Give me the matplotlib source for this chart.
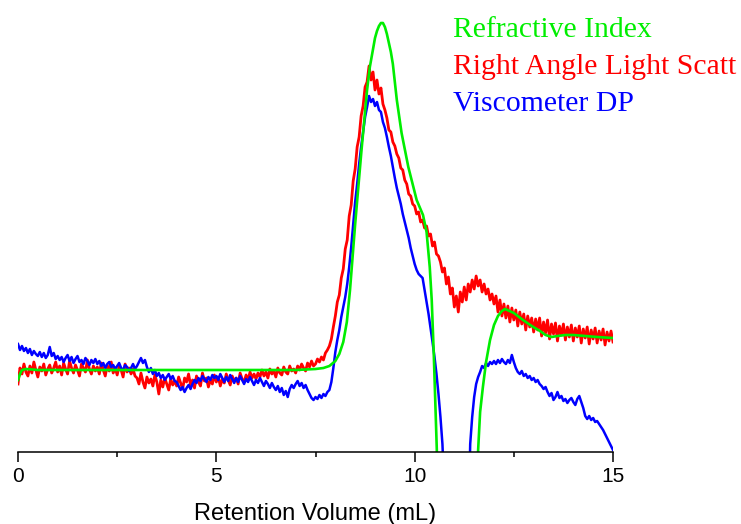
import numpy as np
import matplotlib
matplotlib.use("Agg")
import matplotlib.pyplot as plt

# retention volume grid for the two noisy detectors (mL, step 0.05)
volume = np.round(np.arange(0, 15.001, 0.05), 2)

# right angle light scattering signal (arbitrary units)
rals = [
    68, 84, 78, 88, 80, 76, 86, 79, 90, 82, 75, 85, 81, 88, 77, 83, 87, 79, 84, 90,
    80, 86, 77, 89, 83, 78, 91, 84, 79, 87, 82, 76, 88, 84, 80, 92, 83, 78, 86, 81,
    85, 78, 89, 82, 76, 87, 81, 90, 79, 84, 77, 86, 82, 75, 88, 80, 84, 78, 83, 76,
    74, 68, 79, 70, 64, 75, 69, 73, 66, 77, 70, 58, 72, 65, 74, 68, 62, 73, 67, 71,
    66, 75, 69, 63, 74, 70, 78, 67, 72, 64, 76, 70, 66, 79, 71, 74, 65, 72, 68, 77,
    70, 75, 66, 73, 69, 78, 72, 67, 76, 71, 74, 68, 79, 73, 70, 77, 72, 80, 74, 78,
    73, 79, 75, 82, 76, 80, 74, 83, 78, 81, 75, 84, 79, 77, 85, 80, 78, 86, 81, 83,
    79, 86, 82, 88, 84, 81, 89, 85, 91, 86, 88, 93, 90, 95, 92, 99, 102, 106, 113, 125,
    136, 150, 157, 174, 183, 203, 212, 236, 247, 271, 283, 305, 315, 336, 346, 365, 370, 386, 372, 380,
    362, 372, 358, 364, 348, 342, 334, 322, 320, 310, 306, 298, 294, 284, 282, 272, 268, 258, 256, 248,
    246, 238, 240, 230, 232, 224, 226, 216, 218, 206, 210, 198, 196, 190, 180, 184, 168, 175, 158, 164,
    145, 156, 140, 160, 150, 165, 152, 168, 160, 172, 163, 176, 166, 172, 160, 168, 158, 163, 152, 158,
    148, 156, 140, 152, 136, 148, 134, 146, 130, 144, 132, 142, 126, 140, 128, 138, 122, 136, 125, 134,
    120, 133, 122, 134, 116, 130, 119, 132, 113, 128, 118, 129, 111, 126, 117, 128, 112, 125, 115, 127,
    111, 124, 115, 126, 109, 123, 114, 125, 108, 122, 113, 124, 109, 121, 112, 123, 107, 120, 111, 121,
    110,
]

# viscometer differential pressure signal
visc = [
    108, 102, 106, 101, 104, 99, 103, 97, 101, 98, 96, 100, 95, 99, 94, 97, 105, 96, 99, 93,
    96, 92, 95, 90, 94, 97, 91, 95, 89, 93, 96, 90, 92, 88, 94, 91, 87, 92, 89, 93,
    88, 91, 86, 89, 84, 88, 90, 85, 87, 83, 86, 89, 84, 82, 87, 85, 81, 84, 88, 83,
    86, 90, 94, 89, 92, 85, 80, 84, 78, 82, 76, 79, 74, 77, 72, 75, 78, 73, 76, 71,
    70, 66, 62, 65, 60, 64, 67, 63, 68, 72, 69, 74, 71, 76, 73, 70, 75, 72, 77, 74,
    76, 72, 78, 74, 70, 75, 71, 77, 73, 69, 74, 70, 76, 72, 68, 73, 70, 75, 71, 67,
    72, 69, 74, 70, 66, 71, 68, 64, 69, 65, 62, 66, 60, 64, 57, 61, 55, 63, 67, 64,
    68, 71, 66, 69, 64, 67, 62, 58, 54, 52, 55, 53, 57, 54, 58, 56, 60, 62, 70, 84,
    100, 112, 122, 135, 145, 155, 168, 185, 205, 228, 250, 268, 288, 305, 320, 335, 345, 356, 350, 353,
    346, 350, 342, 340, 330, 324, 315, 305, 296, 285, 274, 264, 256, 248, 238, 230, 222, 214, 204, 196,
    188, 182, 178, 176, 174, 162, 150, 138, 124, 110, 95, 78, 58, 35, 8, -40, -80, -80, -80, -80,
    -80, -80, -80, -80, -80, -80, -80, -80, 8, 35, 55, 68, 75, 80, 86, 84, 89, 86, 90, 88,
    91, 88, 92, 89, 93, 90, 88, 92, 89, 97, 90, 84, 80, 78, 81, 76, 78, 74, 76, 72,
    74, 70, 72, 68, 66, 63, 65, 60, 56, 59, 52, 55, 60, 54, 56, 51, 53, 49, 52, 54,
    50, 47, 53, 56, 50, 44, 36, 33, 36, 32, 34, 30, 31, 28, 25, 22, 18, 14, 10, 6,
    2,
]

# refractive index trace (smooth, read at its own points)
ri_volume = [0.0, 0.05, 0.1, 0.2, 0.5, 1, 2, 3, 4, 5, 6, 7, 7.5, 7.7, 7.85, 7.94, 8.0, 8.1, 8.2,
             8.29, 8.37, 8.5, 8.66, 8.8, 8.87, 9.0, 9.05, 9.1, 9.15, 9.2, 9.25, 9.3, 9.4, 9.45,
             9.5, 9.55, 9.67, 9.84, 10.05, 10.21, 10.3, 10.38, 10.43, 10.48, 10.52, 10.56, 10.6,
             10.7, 11.45, 11.55, 11.6, 11.65, 11.72, 11.8, 11.9, 12.0, 12.1, 12.2, 12.28, 12.5,
             12.73, 12.95, 13.16, 13.3, 13.45, 13.6, 13.8, 14.0, 14.3, 14.6, 15.0]
ri = [72, 78, 82, 83, 82, 82, 82, 82, 82, 82, 82, 82, 83, 84, 86, 89, 91, 98, 110,
      130, 162, 228, 302, 362, 385, 414, 421, 426, 429, 429, 425, 418, 400, 388,
      370, 352, 319, 285, 252, 237, 220, 185, 152, 100, 50, 0, -60,
      -200, -200, -60, 2, 40, 65, 90, 112, 127, 136, 141, 143, 139,
      132, 126, 121, 117, 115, 116, 117, 117, 116, 115, 114]

# the last label is cut at the picture edge in the original
labels = ["Refractive Index", "Right Angle Light Scatt", "Viscometer DP"]
colors = ["#00ee00", "#ff0000", "#0000ff"]

fig = plt.figure(figsize=(7.41, 5.24), dpi=100)
ax = fig.add_axes([18 / 741, 72 / 524, 595 / 741, 452 / 524])

ax.plot(volume, rals, color=colors[1], lw=2.0)
ax.plot(volume, visc, color=colors[2], lw=1.8)
ax.plot(ri_volume, ri, color=colors[0], lw=1.9)

ax.set_xlim(0, 15)
ax.set_ylim(0, 452)
for side in ["left", "right", "top"]:
    ax.spines[side].set_visible(False)
ax.spines["bottom"].set_linewidth(1.1)
ax.set_yticks([])
ax.set_xticks([0, 5, 10, 15])
ax.set_xticklabels(["0", "5", "10", "15"])
ax.set_xticks([2.5, 7.5, 12.5], minor=True)
ax.tick_params(axis="x", which="major", direction="out", length=7, width=1.1,
               labelsize=15, pad=4)
ax.tick_params(axis="x", which="minor", direction="out", length=3.5, width=1.1)
for t in ax.get_xticklabels():
    t.set_fontfamily("Liberation Sans")
ax.set_xlabel("Retention Volume (mL)", fontsize=17, family="Liberation Sans", labelpad=12)

# legend as coloured text
for i, (txt, c) in enumerate(zip(labels, colors)):
    fig.text(453 / 741, 1 - (37 + 37 * i) / 524, txt, color=c, fontsize=21.4,
             family="Liberation Serif", va="baseline", ha="left")

fig.savefig("out.png", dpi=100)
